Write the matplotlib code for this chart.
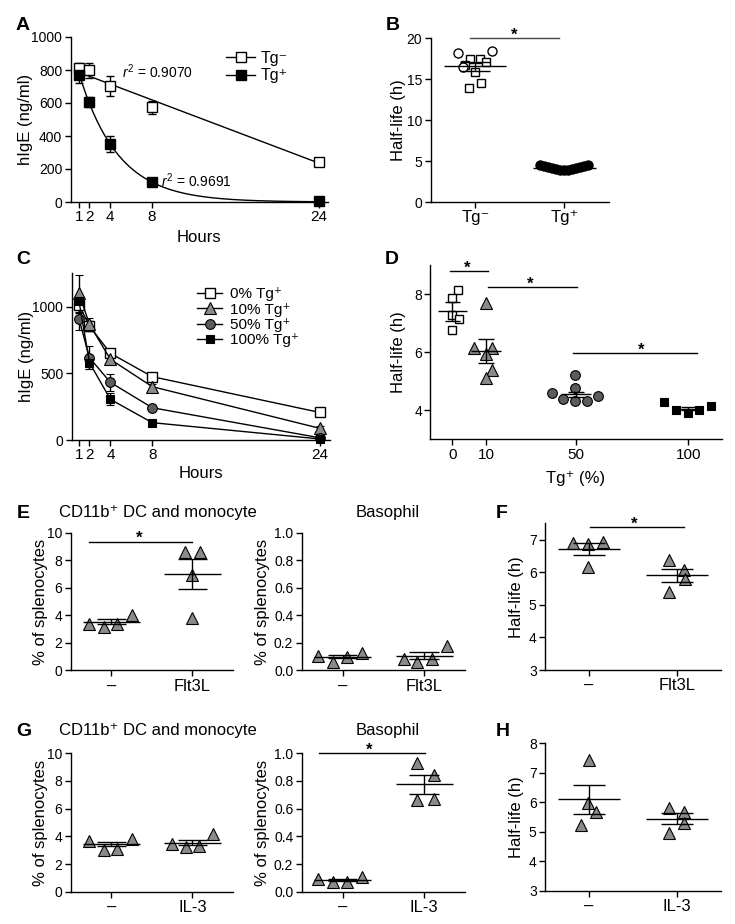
import numpy as np
import matplotlib
matplotlib.use("Agg")
import matplotlib.pyplot as plt

plt.rcParams['font.family'] = ['Liberation Sans', 'DejaVu Sans']
plt.rcParams['mathtext.fontset'] = 'custom'
plt.rcParams['mathtext.rm'] = 'Liberation Sans'
plt.rcParams['mathtext.it'] = 'Liberation Sans:italic'

# ---------------- data ----------------
hours = [1, 2, 4, 8, 24]

# A: hIgE clearance
a_neg = [812, 798, 701, 574, 242]
a_neg_err = [30, 45, 60, 38, 18]
a_pos = [772, 606, 353, 119, 4]
a_pos_err = [50, 30, 50, 10, 8]
a_neg_fit = (810, -23.9)      # intercept, slope (linear fit)
a_pos_fit = (1018, 0.267)     # y0, k (one-phase decay)
a_r2 = ["0.9070", "0.9691"]

# B: half-life
b_groups = ["Tg\u207b", "Tg\u207a"]
b_neg_circ = [18.17, 18.45, 16.53]
b_neg_circ_dx = [-0.195, 0.186, -0.139]
b_neg_sq = [17.47, 17.47, 17.07, 15.85, 13.89, 14.5, 16.7]
b_neg_sq_dx = [-0.064, 0.056, 0.123, -0.008, -0.072, 0.059, -0.12]
b_pos = [4.5, 4.42, 4.32, 4.2, 4.05, 3.92, 3.85, 3.9, 4.0, 4.12, 4.25, 4.38, 4.48]
b_pos_dx = [-0.27, -0.225, -0.18, -0.135, -0.09, -0.045, 0, 0.045, 0.09, 0.135, 0.18, 0.225, 0.27]
b_mean = [16.6, 4.19]
b_sem = [0.55, 0.06]

# C: mixed chimeras
c_labels = ["0% Tg\u207a", "10% Tg\u207a", "50% Tg\u207a", "100% Tg\u207a"]
c_vals = [[1012, 855, 650, 475, 207],
          [1100, 867, 605, 400, 88],
          [907, 617, 432, 242, 17],
          [1040, 580, 305, 130, 8]]
c_err = [[60, 40, 30, 20, 20],
         [140, 45, 30, 20, 15],
         [80, 88, 65, 15, 10],
         [40, 45, 45, 15, 8]]

# D: half-life vs % Tg+
d_ticks = ["0", "10", "50", "100"]
d_vals = [[8.15, 7.86, 7.29, 7.15, 6.77],
          [7.69, 6.13, 6.16, 5.93, 5.38, 5.10],
          [4.61, 5.23, 4.78, 4.38, 4.32, 4.32, 4.50],
          [4.29, 4.00, 3.91, 4.00, 4.14]]
d_dx = [[2.5, 0, -0.3, 2.8, 0],
        [0, -5.2, 2.5, 0, 2.8, -0.1],
        [-10.7, -0.3, -0.3, -5.6, -0.3, 4.7, 9.9],
        [-10.7, -5.5, -0.3, 4.9, 10.1]]
d_mean = [7.40, 6.04, 4.55, 4.06]
d_sem = [0.33, 0.40, 0.09, 0.05]

# E-H
e_groups = ["\u2013", "Flt3L"]
g_groups = ["\u2013", "IL-3"]
e_dc = [[3.37, 3.17, 3.37, 4.02], [8.62, 8.62, 6.92, 3.78]]
e_dc_dx = [[-0.27, -0.09, 0.07, 0.25], [-0.095, 0.09, -0.01, 0]]
e_dc_mean = [3.53, 7.0]
e_dc_sem = [0.17, 1.12]
e_baso = [[0.104, 0.063, 0.099, 0.128], [0.082, 0.063, 0.080, 0.179]]
e_baso_dx = [[-0.3, -0.115, 0.055, 0.234], [-0.247, -0.085, 0.098, 0.277]]
e_baso_mean = [0.099, 0.107]
e_baso_sem = [0.012, 0.025]
f_vals = [[6.90, 6.86, 6.93, 6.16], [6.37, 6.06, 5.78, 5.40]]
f_dx = [[-0.18, -0.01, 0.16, -0.01], [-0.09, 0.08, 0.09, -0.09]]
f_mean = [6.72, 5.91]
f_sem = [0.18, 0.20]
g_dc = [[3.69, 3.01, 3.06, 3.81], [3.42, 3.25, 3.30, 4.14]]
g_dc_dx = [[-0.27, -0.09, 0.07, 0.25], [-0.255, -0.074, 0.08, 0.255]]
g_dc_mean = [3.45, 3.55]
g_dc_sem = [0.15, 0.18]
g_baso = [[0.089, 0.072, 0.072, 0.108], [0.928, 0.843, 0.663, 0.670]]
g_baso_dx = [[-0.3, -0.115, 0.055, 0.234], [-0.085, 0.115, -0.085, 0.115]]
g_baso_mean = [0.085, 0.776]
g_baso_sem = [0.009, 0.068]
h_vals = [[7.44, 5.97, 5.69, 5.23], [5.80, 5.69, 5.29, 4.95]]
h_dx = [[0, -0.01, 0.083, -0.087], [-0.087, 0.083, 0.083, -0.087]]
h_mean = [6.10, 5.45]
h_sem = [0.48, 0.18]

# ---------------- helpers ----------------
W, H = 735, 924
fig = plt.figure(figsize=(W / 100, H / 100), dpi=100)
GRAY = '#8a8a8a'
DARK = '#5c5c5c'
TRI = dict(marker='^', ms=9, mfc=GRAY, mec='k', mew=0.8)


def add_ax(l, t, r, b):
    ax = fig.add_axes([l / W, 1 - b / H, (r - l) / W, (b - t) / H])
    for s in ['top', 'right']:
        ax.spines[s].set_visible(False)
    for s in ['left', 'bottom']:
        ax.spines[s].set_linewidth(1.0)
    ax.tick_params(direction='out', length=4, width=1.0, labelsize=10, pad=2)
    ax.tick_params(axis='x', labelsize=11)
    ax._box = (l, t, r, b)
    return ax


def ylab(ax, text, px, size=12):
    l, t, r, b = ax._box
    ax.set_ylabel(text, fontsize=size)
    ax.yaxis.set_label_coords((px - l) / (r - l), 0.5)
    ax.yaxis.label.set_va('center')


def xlab(ax, text, py, size=12):
    l, t, r, b = ax._box
    ax.set_xlabel(text, fontsize=size)
    ax.xaxis.set_label_coords(0.5, (b - py) / (b - t))
    ax.xaxis.label.set_va('center')


def mean_sem(ax, x, m, s, half, cap):
    kw = dict(color='k', lw=1.0, zorder=5, clip_on=False)
    ax.hlines(m, x - half, x + half, **kw)
    ax.vlines(x, m - s, m + s, **kw)
    ax.hlines([m - s, m + s], x - cap, x + cap, **kw)


def sig(ax, x0, x1, y, xs, color='k'):
    ax.plot([x0, x1], [y, y], color=color, lw=1.0, clip_on=False)
    ax.annotate('*', xy=(xs, y), xytext=(0, -1), textcoords='offset points',
                ha='center', va='baseline', fontsize=12, fontweight='bold',
                annotation_clip=False)


def letter(s, x, y):
    fig.text(x / W, 1 - y / H, s, fontsize=14, fontweight='bold', ha='left', va='center')


def dots_two(ax, vals, dxs, means, sems, groups, ylim, yticks, fmt=None):
    for i in range(2):
        ax.plot(i + np.asarray(dxs[i]), vals[i], ls='none', clip_on=False, zorder=3, **TRI)
        mean_sem(ax, i, means[i], sems[i], 0.35, 0.18)
    ax.set_xlim(-0.5, 1.5)
    ax.set_ylim(*ylim)
    ax.set_yticks(yticks)
    if fmt:
        ax.set_yticklabels([fmt.format(v) for v in yticks])
    ax.set_xticks([0, 1])
    ax.set_xticklabels(groups, fontsize=12)


# ---------------- A ----------------
axA = add_ax(70.7, 37, 328, 202)
tt = np.linspace(1, 24, 200)
axA.plot(tt, a_neg_fit[0] + a_neg_fit[1] * tt, color='k', lw=1.0)
axA.plot(tt, a_pos_fit[0] * np.exp(-a_pos_fit[1] * tt), color='k', lw=1.0)
axA.errorbar(hours, a_neg, yerr=a_neg_err, fmt='s', ms=6.5, mfc='white', mec='k', mew=1.0,
             ecolor='k', elinewidth=1.0, capsize=3, capthick=1.0, clip_on=False, zorder=4)
axA.errorbar(hours, a_pos, yerr=a_pos_err, fmt='s', ms=6.5, mfc='k', mec='k',
             ecolor='k', elinewidth=1.0, capsize=3, capthick=1.0, clip_on=False, zorder=4)
hA = [axA.plot([], [], color='k', lw=1.0, marker='s', ms=6.5, mfc='white', mec='k')[0],
      axA.plot([], [], color='k', lw=1.0, marker='s', ms=6.5, mfc='k', mec='k')[0]]
axA.legend(hA, b_groups, loc='upper left', bbox_to_anchor=(0.605, 0.915), frameon=False,
           fontsize=11.5, handlelength=1.8, handletextpad=0.35, labelspacing=0.15,
           borderpad=0, borderaxespad=0)
axA.text(8.5, 790, r"$r^2$ = " + a_r2[0], fontsize=10, ha='center', va='center')
axA.text(12.3, 130, r"$r^2$ = " + a_r2[1], fontsize=10, ha='center', va='center')
axA.set_xlim(0.2, 24.9)
axA.set_ylim(0, 1000)
axA.set_xticks(hours)
axA.set_yticks(range(0, 1001, 200))
ylab(axA, "hIgE (ng/ml)", 26)
xlab(axA, "Hours", 238)
letter("A", 16, 25)

# ---------------- B ----------------
axB = add_ax(430.7, 38.3, 609, 202)
axB.plot(0 + np.asarray(b_neg_sq_dx), b_neg_sq, ls='none', marker='s', ms=6, mfc='white',
         mec='k', mew=1.0, zorder=3)
axB.plot(0 + np.asarray(b_neg_circ_dx), b_neg_circ, ls='none', marker='o', ms=6.5, mfc='white',
         mec='k', mew=1.0, zorder=3)
axB.plot(1 + np.asarray(b_pos_dx), b_pos, ls='none', marker='o', ms=6.5, mfc='k', mec='k', zorder=3)
for i in range(2):
    mean_sem(axB, i, b_mean[i], b_sem[i], 0.35, 0.17)
sig(axB, -0.06, 0.94, 20, 0.44, color='#444444')
axB.set_xlim(-0.5, 1.5)
axB.set_ylim(0, 20)
axB.set_yticks([0, 5, 10, 15, 20])
axB.set_xticks([0, 1])
axB.set_xticklabels(b_groups, fontsize=12)
ylab(axB, "Half-life (h)", 398)
letter("B", 386, 25)

# ---------------- C ----------------
axC = add_ax(71.7, 273.3, 330, 440)
c_styles = [dict(marker='s', ms=6.5, mfc='white', mec='k', mew=1.0),
            dict(marker='^', ms=8.5, mfc=GRAY, mec='k', mew=0.8),
            dict(marker='o', ms=7, mfc=DARK, mec='k', mew=0.8),
            dict(marker='s', ms=6, mfc='k', mec='k', mew=0.8)]
hC = []
for vals, err, st in zip(c_vals, c_err, c_styles):
    axC.errorbar(hours, vals, yerr=err, color='k', lw=1.0, ecolor='k', elinewidth=1.0,
                 capsize=3, capthick=1.0, clip_on=False, zorder=4, **st)
    hC.append(axC.plot([], [], color='k', lw=1.0, **st)[0])
axC.legend(hC, c_labels, loc='upper left', bbox_to_anchor=(0.487, 0.915), frameon=False,
           fontsize=11, handlelength=1.6, handletextpad=0.5, labelspacing=0.08,
           borderpad=0, borderaxespad=0)
axC.set_xlim(0.3, 25.0)
axC.set_ylim(0, 1250)
axC.set_xticks(hours)
axC.set_yticks([0, 500, 1000])
ylab(axC, "hIgE (ng/ml)", 26)
xlab(axC, "Hours", 474)
letter("C", 16, 259)

# ---------------- D ----------------
axD = add_ax(430.3, 265, 721.7, 439.3)
d_pos = [-5, 10, 50, 100]
d_styles = [dict(marker='s', ms=6.3, mfc='white', mec='k', mew=1.0),
            dict(marker='^', ms=8.5, mfc=GRAY, mec='k', mew=0.8),
            dict(marker='o', ms=7, mfc=DARK, mec='k', mew=0.8),
            dict(marker='s', ms=6.3, mfc='k', mec='k', mew=0.8)]
for i in range(4):
    axD.plot(d_pos[i] + np.asarray(d_dx[i]), d_vals[i], ls='none', zorder=3, **d_styles[i])
    mean_sem(axD, d_pos[i], d_mean[i], d_sem[i], 6.5, 3.4)
sig(axD, -5.9, 10.9, 8.78, 1.8)
sig(axD, 10.9, 50.3, 8.24, 29.6)
sig(axD, 48.8, 103.7, 5.96, 79.2)
axD.set_xlim(-14.8, 114.8)
axD.set_ylim(3, 9)
axD.set_yticks([4, 6, 8])
axD.set_xticks(d_pos)
axD.set_xticklabels(d_ticks, fontsize=11)
ylab(axD, "Half-life (h)", 398)
xlab(axD, "Tg\u207a (%)", 478)
letter("D", 385, 259)

# ---------------- E ----------------
axE1 = add_ax(70.7, 532.7, 233, 670.3)
dots_two(axE1, e_dc, e_dc_dx, e_dc_mean, e_dc_sem, e_groups, (0, 10), range(0, 11, 2))
sig(axE1, -0.27, 0.99, 9.35, 0.34)
ylab(axE1, "% of splenocytes", 40)
axE2 = add_ax(301.7, 532.7, 465, 670.3)
dots_two(axE2, e_baso, e_baso_dx, e_baso_mean, e_baso_sem, e_groups, (0, 1.0),
         [0, 0.2, 0.4, 0.6, 0.8, 1.0], fmt="{:.1f}")
ylab(axE2, "% of splenocytes", 263)
fig.text(157.5 / W, 1 - 513 / H, "CD11b\u207a DC and monocyte", fontsize=12, ha='center', va='center')
fig.text(387.5 / W, 1 - 513 / H, "Basophil", fontsize=12, ha='center', va='center')
letter("E", 17, 513)

# ---------------- F ----------------
axF = add_ax(545, 523.3, 720.7, 670)
dots_two(axF, f_vals, f_dx, f_mean, f_sem, e_groups, (3, 7.5), [3, 4, 5, 6, 7])
sig(axF, 0.01, 1.08, 7.39, 0.51)
ylab(axF, "Half-life (h)", 516)
letter("F", 496, 513)

# ---------------- G ----------------
axG1 = add_ax(70.7, 753.3, 233, 891.7)
dots_two(axG1, g_dc, g_dc_dx, g_dc_mean, g_dc_sem, g_groups, (0, 10), range(0, 11, 2))
ylab(axG1, "% of splenocytes", 40)
axG2 = add_ax(301.7, 753.3, 465, 891.7)
dots_two(axG2, g_baso, g_baso_dx, g_baso_mean, g_baso_sem, g_groups, (0, 1.0),
         [0, 0.2, 0.4, 0.6, 0.8, 1.0], fmt="{:.1f}")
sig(axG2, -0.285, 1.01, 1.0, 0.33)
ylab(axG2, "% of splenocytes", 263)
fig.text(157.5 / W, 1 - 731 / H, "CD11b\u207a DC and monocyte", fontsize=12, ha='center', va='center')
fig.text(387.5 / W, 1 - 731 / H, "Basophil", fontsize=12, ha='center', va='center')
letter("G", 16, 731)

# ---------------- H ----------------
axH = add_ax(545, 743.3, 720.7, 891)
dots_two(axH, h_vals, h_dx, h_mean, h_sem, g_groups, (3, 8), [3, 4, 5, 6, 7, 8])
ylab(axH, "Half-life (h)", 516)
letter("H", 496, 731)

fig.savefig("out.png", dpi=100)
